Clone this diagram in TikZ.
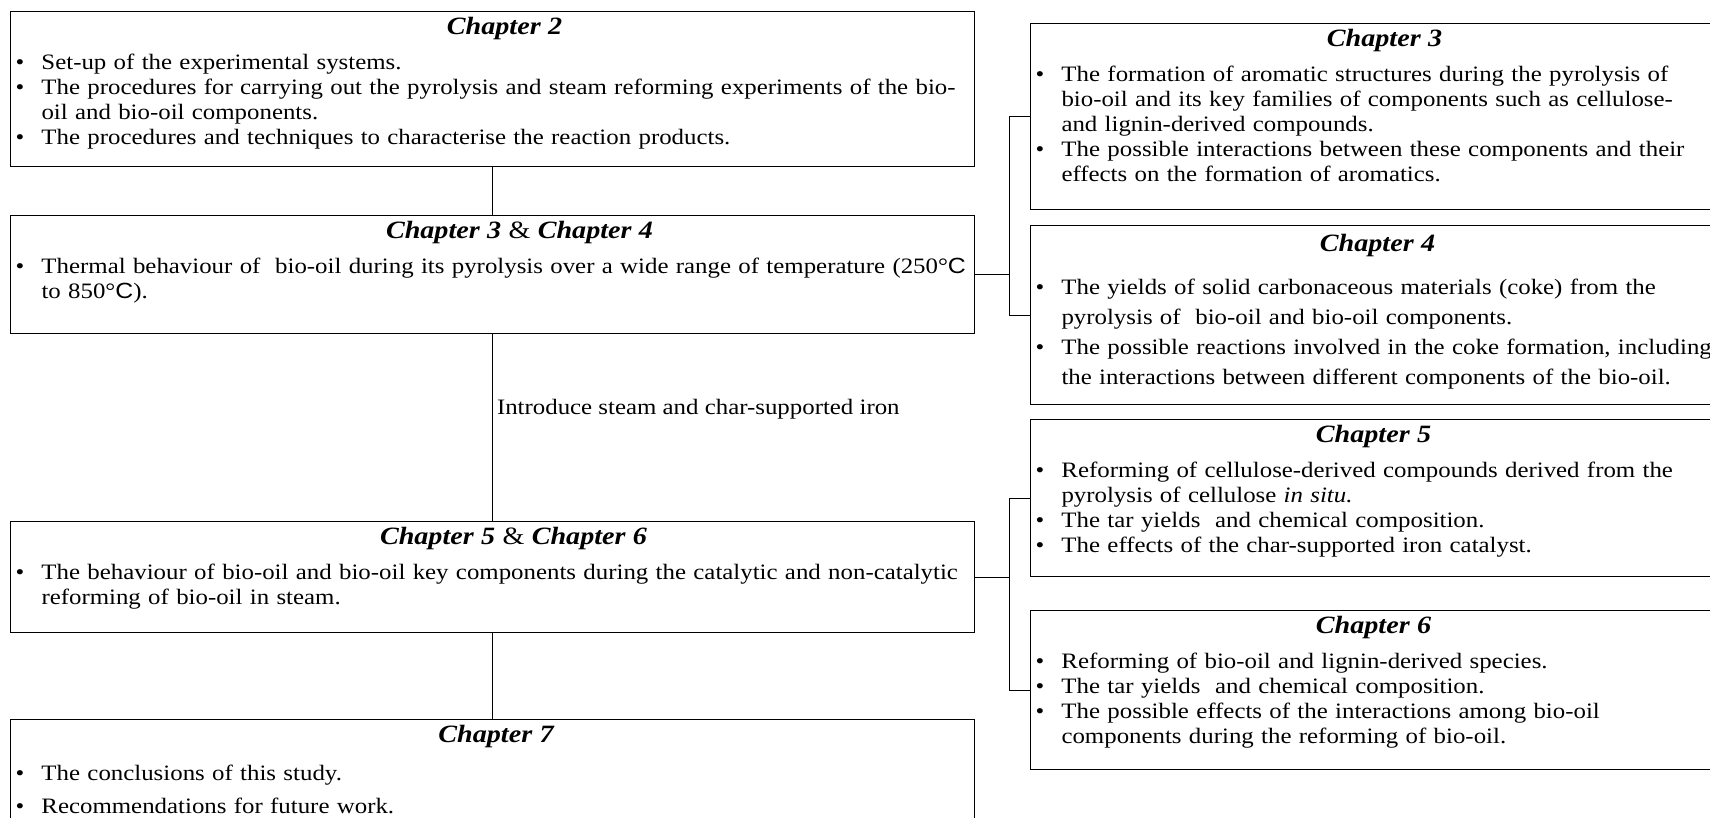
\documentclass[tikz,border=0pt]{standalone}
\usepackage{fontspec}
\setmainfont{Liberation Serif}[FakeStretch=1.13]
\setsansfont{Liberation Sans}[FakeStretch=1.13]
\usetikzlibrary{positioning}

\newcommand{\bt}[1]{\textbf{\textit{#1}}}
\newcommand{\degC}{\textdegree{\sffamily C}}
% title line, then the bullet list set-up
\newcommand{\chaptitle}[3]{\makebox[\linewidth]{\hspace{#1}\fontsize{24.9}{25}\selectfont #3}\par
  \leftskip=5pt \rightskip=0pt plus 1fil minus 150pt \vspace{#2}}
\newcommand{\chapitem}[1]{\par\hangindent=26pt\hangafter=1\noindent\makebox[26pt][l]{\textbullet}#1\par}

\begin{document}
\begin{tikzpicture}[x=1pt, y=-1pt,
    chap/.style={draw, line width=1pt, rectangle, inner sep=0pt, text width=#1,
      align=left, text height=23pt, font=\fontsize{22}{25}\selectfont},
    link/.style={line width=1pt},
    lbl/.style={right, inner sep=4pt, font=\fontsize{22}{25}\selectfont}]
  \useasboundingbox (0,0) rectangle (1710,818);
  \clip (0,0) rectangle (1710,818);

  % left column
  \node (ch2) [chap=964pt, text depth=132pt, anchor=north west] at (10,11) {%
    \chaptitle{24pt}{10pt}{\bt{Chapter 2}}
    \chapitem{Set-up of the experimental systems.}
    \chapitem{The procedures for carrying out the pyrolysis and steam reforming experiments of the bio-\newline oil and bio-oil components.}
    \chapitem{The procedures and techniques to characterise the reaction products.}};
  \node (ch34) [chap=964pt, text depth=95pt, below=48pt of ch2] {%
    \chaptitle{54pt}{10pt}{\bt{Chapter 3} \& \bt{Chapter 4}}
    \chapitem{Thermal behaviour of\ \ bio-oil during its pyrolysis over a wide range of temperature (250\degC\newline to 850\degC).}};
  \node (ch56) [chap=964pt, text depth=88pt, below=187pt of ch34] {%
    \chaptitle{42pt}{10pt}{\bt{Chapter 5} \& \bt{Chapter 6}}
    \chapitem{The behaviour of bio-oil and bio-oil key components during the catalytic and non-catalytic\newline reforming of bio-oil in steam.}};
  \node (ch7) [chap=964pt, text depth=107pt, below=86pt of ch56, font=\fontsize{22}{33}\selectfont] {%
    \chaptitle{8pt}{5pt}{\bt{Chapter 7}}
    \chapitem{The conclusions of this study.}
    \chapitem{Recommendations for future work.}};

  % right column
  \node (ch3) [chap=710pt, text depth=163pt, anchor=north west] at (1030,23) {%
    \chaptitle{-2pt}{10pt}{\bt{Chapter 3}}
    \chapitem{The formation of aromatic structures during the pyrolysis of\newline bio-oil and its key families of components such as cellulose-\newline and lignin-derived compounds.}
    \chapitem{The possible interactions between these components and their\newline effects on the formation of aromatics.}};
  \node (ch4) [chap=710pt, text height=26pt, text depth=153pt, below=15pt of ch3, font=\fontsize{22}{30}\selectfont] {%
    \chaptitle{-16pt}{13pt}{\bt{Chapter 4}}
    \chapitem{The yields of solid carbonaceous materials (coke) from the\newline pyrolysis of\ \ bio-oil and bio-oil components.}
    \chapitem{The possible reactions involved in the coke formation, including\newline the interactions between different components of the bio-oil.}};
  \node (ch5) [chap=710pt, text depth=134pt, below=14pt of ch4] {%
    \chaptitle{-24pt}{10pt}{\bt{Chapter 5}}
    \chapitem{Reforming of cellulose-derived compounds derived from the\newline pyrolysis of cellulose \textit{in situ.}}
    \chapitem{The tar yields\ \ and chemical composition.}
    \chapitem{The effects of the char-supported iron catalyst.}};
  \node (ch6) [chap=710pt, text depth=136pt, below=33pt of ch5] {%
    \chaptitle{-24pt}{10pt}{\bt{Chapter 6}}
    \chapitem{Reforming of bio-oil and lignin-derived species.}
    \chapitem{The tar yields\ \ and chemical composition.}
    \chapitem{The possible effects of the interactions among bio-oil\newline components during the reforming of bio-oil.}};

  % connectors
  \draw [link] (ch2) -- (ch34);
  \draw [link] (ch34) -- node [lbl, pos=0.4] {Introduce steam and char-supported iron} (ch56);
  \draw [link] (ch56) -- (ch7);

  \coordinate (fork1) at ([xshift=34pt]ch34.east);
  \coordinate (fork2) at ([xshift=34pt]ch56.east);
  \draw [link] (ch34.east) -- (fork1);
  \draw [link] (ch3.west) -| (fork1) |- (ch4.west);
  \draw [link] (ch56.east) -- (fork2);
  \draw [link] (ch5.west) -| (fork2) |- (ch6.west);
\end{tikzpicture}
\end{document}
